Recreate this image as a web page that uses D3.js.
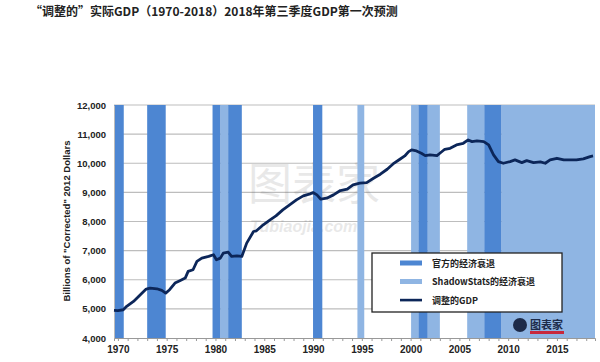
<!DOCTYPE html>
<html lang="zh">
<head>
    <meta charset="UTF-8">
    <script type="text/javascript" src="https://cdn.jsdelivr.net/npm/d3@7/dist/d3.min.js"></script>
    <title>调整的实际GDP</title>
    <style>
        body { margin: 0; background: #fff; }
        text { font-family: "Liberation Sans", Arial, "Noto Sans CJK SC", sans-serif; }
    </style>
</head>
<body>
</body>
<script>

    let width = 600, height = 362;

    // 官方的经济衰退 (start, end)
    let officialStart = [1969.6, 1973.0, 1979.7, 1981.3, 1990.0, 2000.8, 2007.55];
    let officialEnd = [1970.6, 1974.9, 1980.5, 1982.7, 1990.95, 2001.75, 2009.3];
    // ShadowStats的经济衰退
    let shadowStart = [1980.5, 1994.55, 2000.05, 2001.75, 2005.8, 2009.3];
    let shadowEnd = [1981.3, 1995.25, 2000.8, 2003.0, 2007.55, 2018.9];

    // 调整的GDP
    let gdpYears = [1969.6, 1970.0, 1970.55, 1970.9, 1971.6, 1972.3, 1972.9, 1973.3, 1974.0, 1974.5, 1974.9,
        1975.3, 1975.85, 1976.4, 1976.9, 1977.2, 1977.7, 1978.1, 1978.6, 1979.3, 1979.8, 1980.1, 1980.5,
        1980.8, 1981.3, 1981.65, 1982.2, 1982.7, 1983.2, 1983.9, 1984.2, 1984.9, 1985.6, 1986.2, 1986.9,
        1987.6, 1988.3, 1989.0, 1989.7, 1990.0, 1990.4, 1990.8, 1991.4, 1992.1, 1992.8, 1993.5, 1994.1,
        1994.8, 1995.5, 1996.2, 1996.9, 1997.6, 1998.2, 1998.9, 1999.4, 1999.8, 2000.1, 2000.6, 2001.1,
        2001.5, 2002.0, 2002.7, 2003.0, 2003.5, 2004.05, 2004.7, 2005.4, 2005.9, 2006.3, 2006.8, 2007.5,
        2008.0, 2008.5, 2009.0, 2009.5, 2010.2, 2010.7, 2011.4, 2011.9, 2012.6, 2013.3, 2013.8, 2014.3,
        2015.0, 2015.7, 2016.4, 2017.0, 2017.7, 2018.4, 2018.7];
    let gdpValues = [4950, 4940, 4970, 5086, 5257, 5486, 5680, 5714, 5690, 5634, 5543,
        5657, 5886, 5977, 6057, 6286, 6343, 6629, 6743, 6800, 6857, 6686, 6743,
        6914, 6949, 6800, 6823, 6800, 7257, 7657, 7680, 7886, 8057, 8194, 8400,
        8571, 8743, 8880, 8949, 8994, 8914, 8766, 8800, 8914, 9063, 9109, 9257,
        9314, 9337, 9486, 9623, 9794, 9977, 10137, 10251, 10400, 10457, 10423, 10343,
        10263, 10286, 10263, 10343, 10480, 10514, 10629, 10686, 10800, 10743, 10766, 10743,
        10629, 10286, 10057, 10000, 10057, 10114, 10023, 10091, 10023, 10046, 10000, 10114,
        10171, 10114, 10114, 10114, 10149, 10229, 10250];

    let yTicks = [4000, 5000, 6000, 7000, 8000, 9000, 10000, 11000, 12000];
    let xTicks = [1970, 1975, 1980, 1985, 1990, 1995, 2000, 2005, 2010, 2015];

    let legendLabels = ["官方的经济衰退", "ShadowStats的经济衰退", "调整的GDP"];

    let darkBlue = "#4d86d2", lightBlue = "#8fb5e3", lineColor = "#0c2659";

    let x = d3.scaleLinear().domain([1969.6, 2018.9]).range([114, 595]);
    let y = d3.scaleLinear().domain([4000, 12000]).range([338, 105]);

    let svg = d3.select("body")
        .append("svg")
        .attr("width", width)
        .attr("height", height)

    // 标题
    svg.append("text")
        .attr("x", 30)
        .attr("y", 16)
        .style("font-family", "'Noto Sans CJK SC', sans-serif")
        .style("font-weight", "bold")
        .style("font-size", "12px")
        .attr("fill", "#222")
        .text("“调整的”实际GDP（1970-2018）2018年第三季度GDP第一次预测");

    // 网格线
    svg.append("g")
        .selectAll("line")
        .data(yTicks.slice(1))
        .join("line")
        .attr("x1", x.range()[0])
        .attr("x2", x.range()[1])
        .attr("y1", d => y(d))
        .attr("y2", d => y(d))
        .attr("stroke", "#bdbdbd")
        .attr("stroke-width", 1.2);

    // 水印
    let wm = svg.append("g").attr("opacity", 0.13);
    wm.append("text")
        .attr("x", 248).attr("y", 200)
        .style("font-family", "'Noto Sans CJK SC', sans-serif")
        .style("font-size", "44px")
        .attr("fill", "#555")
        .text("图表家");
    wm.append("text")
        .attr("x", 250).attr("y", 232)
        .style("font-size", "16px")
        .style("font-weight", "bold")
        .style("font-style", "italic")
        .attr("fill", "#555")
        .text("Tubiaojia.com");

    // 衰退区间
    let shadowBands = shadowStart.map((s, i) => [s, shadowEnd[i]]);
    let officialBands = officialStart.map((s, i) => [s, officialEnd[i]]);

    svg.append("g")
        .selectAll("rect")
        .data(shadowBands)
        .join("rect")
        .attr("x", d => x(d[0]))
        .attr("width", d => x(d[1]) - x(d[0]))
        .attr("y", y(12000))
        .attr("height", y(4000) - y(12000))
        .attr("fill", lightBlue);

    svg.append("g")
        .selectAll("rect")
        .data(officialBands)
        .join("rect")
        .attr("x", d => x(d[0]))
        .attr("width", d => x(d[1]) - x(d[0]))
        .attr("y", y(12000))
        .attr("height", y(4000) - y(12000))
        .attr("fill", darkBlue);

    // y轴
    let yAxis = svg.append("g")
        .attr("transform", "translate(" + x.range()[0] + ",0)")
        .call(d3.axisLeft(y).tickValues(yTicks).tickSize(0).tickPadding(8).tickFormat(d3.format(",")));
    yAxis.select(".domain").attr("stroke", "#bbb");
    yAxis.selectAll("text")
        .style("font-family", "'Liberation Sans', Arial, sans-serif")
        .style("font-size", "9.5px")
        .style("font-weight", "bold")
        .attr("fill", "#222");

    // x轴
    let yearTicks = d3.range(1970, 2019);
    let xAxis = svg.append("g")
        .attr("transform", "translate(0," + y(4000) + ")")
        .call(d3.axisBottom(x).tickValues(yearTicks).tickSize(3).tickPadding(5)
            .tickFormat(d => xTicks.includes(d) ? d : ""));
    xAxis.select(".domain").attr("stroke", "#999");
    xAxis.selectAll(".tick line").attr("stroke", "#999");
    xAxis.selectAll("text")
        .style("font-family", "'Liberation Sans', Arial, sans-serif")
        .style("font-size", "10px")
        .style("font-weight", "bold")
        .attr("fill", "#222");

    // y轴标题
    svg.append("text")
        .attr("transform", "translate(70,221) rotate(-90)")
        .attr("text-anchor", "middle")
        .style("font-size", "9.5px")
        .style("font-weight", "bold")
        .attr("fill", "#222")
        .text("Billions of \"Corrected\" 2012 Dollars");

    // GDP线
    let gdp = gdpYears.map((yr, i) => [yr, gdpValues[i]]);
    svg.append("path")
        .datum(gdp)
        .attr("fill", "none")
        .attr("stroke", lineColor)
        .attr("stroke-width", 2.8)
        .attr("stroke-linejoin", "round")
        .attr("d", d3.line().x(d => x(d[0])).y(d => y(d[1])));

    // 图例
    let legend = svg.append("g").attr("transform", "translate(372,253)");
    legend.append("rect")
        .attr("width", 190)
        .attr("height", 59)
        .attr("fill", "#fff")
        .attr("stroke", "#222")
        .attr("stroke-width", 1.3);
    let legendColors = [darkBlue, lightBlue, lineColor];
    let legendItems = legend.selectAll(".item")
        .data(legendLabels)
        .join("g")
        .attr("class", "item")
        .attr("transform", (d, i) => "translate(0," + (10 + i * 18.5) + ")");
    legendItems.append("rect")
        .attr("x", 28)
        .attr("y", (d, i) => i === 2 ? -1.2 : -2.5)
        .attr("width", 22)
        .attr("height", (d, i) => i === 2 ? 2.6 : 5)
        .attr("fill", (d, i) => legendColors[i]);
    legendItems.append("text")
        .attr("x", 60)
        .attr("y", 3.5)
        .style("font-family", "'Noto Sans CJK SC', sans-serif")
        .style("font-size", "9px")
        .style("font-weight", "bold")
        .attr("fill", "#222")
        .text(d => d);

    // 角标
    let logo = svg.append("g").attr("transform", "translate(520,325)");
    logo.append("circle").attr("r", 7).attr("fill", "#1d2b4a");
    logo.append("text")
        .attr("x", 10).attr("y", 4)
        .style("font-family", "'Noto Sans CJK SC', sans-serif")
        .style("font-size", "11px")
        .style("font-weight", "bold")
        .attr("fill", "#1d2b4a")
        .text("图表家");
    logo.append("rect").attr("x", 10).attr("y", 6).attr("width", 34).attr("height", 3).attr("fill", "#c8283c");

</script>
</html>
